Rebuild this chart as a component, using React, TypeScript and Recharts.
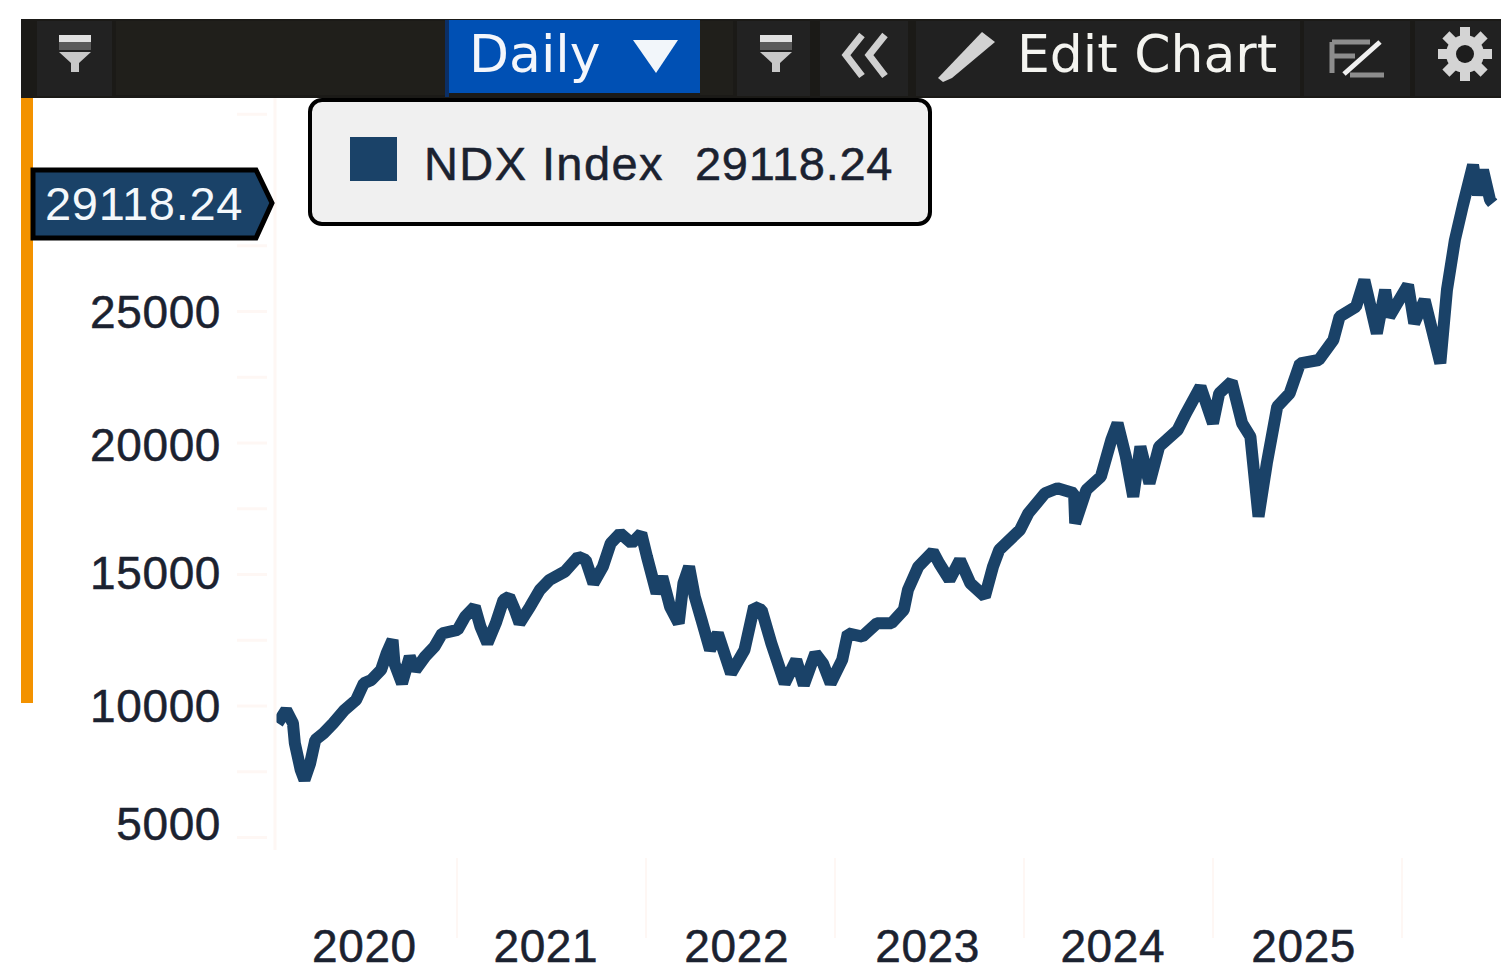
import { Line, LineChart, XAxis, YAxis } from "recharts";

// decimal years
const years = [
  2020.051, 2020.096, 2020.132, 2020.142, 2020.173, 2020.193, 2020.223, 2020.25, 2020.294, 2020.345,
  2020.405, 2020.466, 2020.507, 2020.547, 2020.598, 2020.628, 2020.659, 2020.669, 2020.709, 2020.75,
  2020.78, 2020.831, 2020.881, 2020.922, 2021.003, 2021.043, 2021.094, 2021.124, 2021.161, 2021.205,
  2021.246, 2021.276, 2021.306, 2021.331, 2021.387, 2021.438, 2021.489, 2021.57, 2021.641, 2021.681,
  2021.722, 2021.772, 2021.813, 2021.863, 2021.924, 2021.975, 2022.005, 2022.056, 2022.086, 2022.127,
  2022.173, 2022.198, 2022.228, 2022.258, 2022.299, 2022.339, 2022.38, 2022.45, 2022.521, 2022.572,
  2022.612, 2022.663, 2022.734, 2022.795, 2022.835, 2022.896, 2022.936, 2022.977, 2023.038, 2023.068,
  2023.145, 2023.222, 2023.299, 2023.364, 2023.386, 2023.441, 2023.518, 2023.551, 2023.606, 2023.661,
  2023.716, 2023.793, 2023.836, 2023.869, 2023.979, 2024.023, 2024.111, 2024.177, 2024.265, 2024.271,
  2024.33, 2024.407, 2024.462, 2024.495, 2024.539, 2024.578, 2024.616, 2024.664, 2024.715, 2024.813,
  2024.857, 2024.934, 2025.0, 2025.033, 2025.099, 2025.154, 2025.198, 2025.241, 2025.285, 2025.34,
  2025.406, 2025.461, 2025.56, 2025.637, 2025.67, 2025.757, 2025.801, 2025.867, 2025.911, 2025.933,
  2026.032, 2026.065, 2026.12, 2026.203, 2026.238, 2026.28, 2026.323, 2026.376, 2026.402, 2026.429,
  2026.466, 2026.48,
];

const ndxValues = [
  9344, 9851, 9344, 8584, 7570, 7190, 7824, 8711, 8964, 9344,
  9851, 10231, 10865, 10991, 11371, 12005, 12512, 11625, 10865, 11878,
  11371, 11878, 12258, 12765, 12892, 13398, 13779, 13018, 12385, 13145,
  14032, 14159, 13652, 13145, 13779, 14412, 14792, 15109, 15679, 15552,
  14666, 15299, 16186, 16566, 16186, 16566, 15679, 14285, 14919, 13779,
  13145, 14666, 15299, 14159, 13145, 12131, 12765, 11245, 12131, 13779,
  13652, 12385, 10865, 11751, 10801, 12005, 11625, 10865, 11751, 12765,
  12641, 13148, 13148, 13654, 14415, 15302, 15872, 15428, 14795, 15555,
  14668, 14161, 15302, 15935, 16695, 17329, 18089, 18279, 18089, 16949,
  18216, 18722, 20116, 20750, 19483, 17962, 19863, 18469, 19863, 20496,
  21130, 22143, 20750, 21890, 22333, 20750, 20243, 17202, 19229, 21383,
  21890, 23030, 23157, 23917, 24804, 25184, 26198, 24170, 25818, 24804,
  26008, 24551, 25438, 23030, 25817, 27719, 29049, 30570, 29430, 30380,
  29240, 29118,
];

const yTicks = [5000, 7500, 10000, 12500, 15000, 17500, 20000, 22500, 25000, 27500, 32500];
const yLabels = [5000, 10000, 15000, 20000, 25000];
const yLabelNudge: Record<number, number> = { 5000: -14, 15000: -2, 20000: 2 };
const yearBoundaries = [2021, 2022, 2023, 2024, 2025, 2026];
const yearLabelPositions = [2020.51, 2021.47, 2022.48, 2023.49, 2024.47, 2025.48];
const seriesName = "NDX Index";
const lastValue = "29118.24";

const chartData = years.map((t, i) => ({ t, value: ndxValues[i] }));

const NAVY = "#1a4268";
const TEXT = "#1b2230";
const FAINT = "#fef7f4";
const LABEL_FONT = "'Liberation Sans', Arial, sans-serif";
const MENU_FONT = "'DejaVu Sans', sans-serif";

function YTick({ x, y, payload }: any) {
  const labelled = yLabels.includes(payload.value);
  const dy = yLabelNudge[payload.value] ?? 0;
  return (
    <g>
      <line x1={x - 30} x2={x} y1={y} y2={y} stroke={FAINT} strokeWidth={3} />
      {labelled && (
        <text
          x={221}
          y={y + dy + 16}
          textAnchor="end"
          fontSize={46}
          letterSpacing={0.6}
          fontFamily={LABEL_FONT}
          fill={TEXT}
          stroke={TEXT}
          strokeWidth={0.5}
        >
          {payload.value}
        </text>
      )}
    </g>
  );
}

function XTick({ x, y, payload }: any) {
  if (yearBoundaries.includes(payload.value)) {
    return <line x1={x} x2={x} y1={y} y2={y + 80} stroke={FAINT} strokeWidth={2} />;
  }
  return (
    <text
      x={x}
      y={962}
      textAnchor="middle"
      fontSize={46}
      letterSpacing={0.6}
      fontFamily={LABEL_FONT}
      fill={TEXT}
      stroke={TEXT}
      strokeWidth={0.5}
    >
      {Math.floor(payload.value)}
    </text>
  );
}

function FilterIcon({ x }: { x: number }) {
  return (
    <g>
      <rect x={x - 16} y={35} width={32} height={7} fill="#e0e0e0" />
      <rect x={x - 16} y={42} width={32} height={8} fill="#5a5a5a" />
      <path d={`M${x - 16} 52 H${x + 16} L${x + 4} 63 V72 H${x - 4} V63 Z`} fill="#c8c8c8" />
    </g>
  );
}

function GearIcon() {
  const spokes = [0, 45, 90, 135];
  return (
    <g>
      {spokes.map(a => (
        <rect key={a} x={1460} y={27} width={10} height={54} fill="#d4d4d4" transform={`rotate(${a} 1465 54)`} />
      ))}
      <circle cx={1465} cy={54} r={19} fill="#d4d4d4" />
      <circle cx={1465} cy={54} r={9} fill="#1d1d1d" />
    </g>
  );
}

function Toolbar() {
  return (
    <svg width={1501} height={100} style={{ position: "absolute", left: 0, top: 0 }}>
      <rect x={21} y={19} width={1480} height={79} fill="#1b1a17" />
      <rect x={37} y={21} width={75} height={75} fill="#222222" />
      <rect x={116} y={21} width={329} height={74} fill="#201f1b" />
      <rect x={449} y={20} width={251} height={73} fill="#0050b4" />
      <rect x={445} y={20} width={4} height={77} fill="#0b2f66" />
      <rect x={700} y={21} width={33} height={74} fill="#201f1b" />
      <rect x={737} y={21} width={73} height={75} fill="#222222" />
      <rect x={820} y={21} width={88} height={75} fill="#222222" />
      <rect x={916} y={21} width={384} height={75} fill="#212121" />
      <rect x={1304} y={21} width={106} height={75} fill="#212121" />
      <rect x={1415} y={21} width={86} height={75} fill="#212121" />
      <FilterIcon x={75} />
      <FilterIcon x={776} />
      <text x={469} y={72} fontSize={52} fontFamily={MENU_FONT} fill="#f4f6fb">Daily</text>
      <path d="M633 40 H678 L656 73 Z" fill="#f2f6fa" />
      <path d="M862 35 L846 55 L862 76 M885 35 L869 55 L885 76" fill="none" stroke="#d0d0d0" strokeWidth={7} />
      <path d="M943 82 L938 78 L982 32 L995 42 L952 78 Z" fill="#d2d2d2" />
      <text x={1017} y={72} fontSize={52} fontFamily={MENU_FONT} fill="#f4f4f0">Edit Chart</text>
      <path d="M1332 42 H1370 M1332 42 V73 M1332 56 H1355 M1350 75 H1384" fill="none" stroke="#8d8d8d" strokeWidth={5} />
      <path d="M1344 74 L1380 42" stroke="#f0f0f0" strokeWidth={5} />
      <GearIcon />
    </svg>
  );
}

function LegendBox() {
  const labelStyle: React.CSSProperties = {
    position: "absolute",
    top: 36,
    fontSize: 47,
    lineHeight: "52px",
    letterSpacing: 0.7,
    fontFamily: LABEL_FONT,
    color: TEXT,
    WebkitTextStroke: `0.5px ${TEXT}`,
    whiteSpace: "nowrap",
  };
  return (
    <div
      style={{
        position: "absolute",
        left: 308,
        top: 98,
        width: 616,
        height: 120,
        background: "#f0f0f0",
        border: "4px solid #000",
        borderRadius: 14,
      }}
    >
      <div style={{ position: "absolute", left: 38, top: 35, width: 47, height: 44, background: NAVY }} />
      <span style={{ ...labelStyle, left: 112, letterSpacing: 1.4 }}>{seriesName}</span>
      <span style={{ ...labelStyle, left: 383 }}>{lastValue}</span>
    </div>
  );
}

function ValueTag() {
  return (
    <svg width={290} height={100} style={{ position: "absolute", left: 0, top: 155 }}>
      <path d="M33 15 H256 L272 48 L256 83 H33 Z" fill={NAVY} stroke="#000" strokeWidth={5} />
      <text x={45} y={65} fontSize={47} letterSpacing={0.7} fontFamily={LABEL_FONT} fill="#f4f8fb">{lastValue}</text>
    </svg>
  );
}

export default function App() {
  return (
    <div style={{ position: "absolute", left: 0, top: 0, width: 1501, height: 973, background: "#fff", overflow: "hidden" }}>
      <LineChart width={1501} height={973} data={chartData} margin={{ top: 98, right: 0, bottom: 0, left: 0 }}>
        <XAxis
          dataKey="t"
          type="number"
          domain={[2020.037, 2026.524]}
          ticks={[...yearLabelPositions, ...yearBoundaries]}
          allowDataOverflow
          height={123}
          axisLine={false}
          tickLine={false}
          interval={0}
          tick={<XTick />}
        />
        <YAxis
          type="number"
          domain={[4525, 33118]}
          ticks={yTicks}
          width={275}
          allowDataOverflow
          axisLine={{ stroke: FAINT, strokeWidth: 3 }}
          tickLine={false}
          interval={0}
          tick={<YTick />}
        />
        <Line
          dataKey="value"
          type="linear"
          stroke={NAVY}
          strokeWidth={12}
          dot={false}
          strokeLinejoin="bevel"
          strokeLinecap="butt"
          isAnimationActive={false}
        />
      </LineChart>
      <div style={{ position: "absolute", left: 21, top: 98, width: 12, height: 605, background: "#f39200" }} />
      <ValueTag />
      <LegendBox />
      <Toolbar />
    </div>
  );
}
